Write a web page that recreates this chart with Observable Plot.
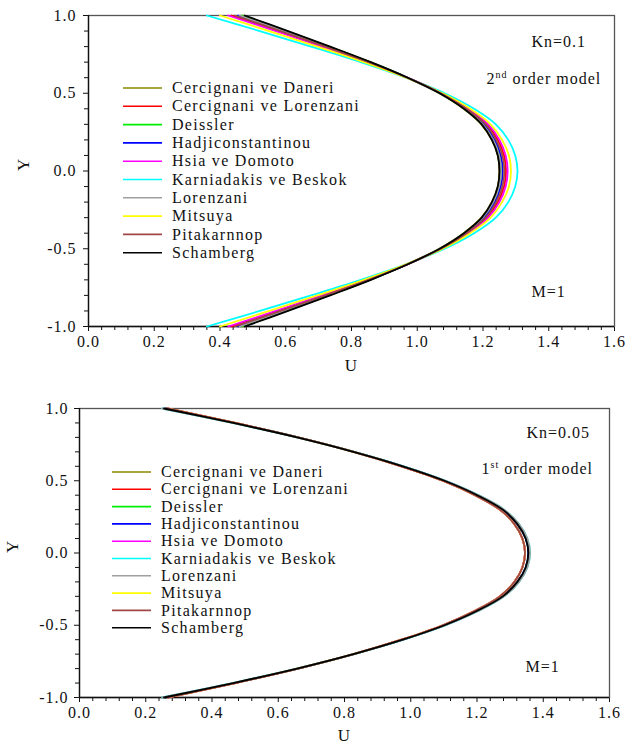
<!DOCTYPE html>
<html><head><meta charset="utf-8">
<script src="https://cdn.jsdelivr.net/npm/d3@7"></script>
<script src="https://cdn.jsdelivr.net/npm/@observablehq/plot@0.6"></script>
<style>
body{margin:0;background:#fff;}
#wrap{position:relative;width:642px;height:751px;overflow:hidden;}
#top{position:absolute;left:0;top:0;}
#bot{position:absolute;left:0;top:390px;}
</style></head><body><div id="wrap"><div id="top"></div><div id="bot"></div></div>
<script>
// ---- categories ----
const seriesNames = ["Cercignani ve Daneri","Cercignani ve Lorenzani","Deissler","Hadjiconstantinou","Hsia ve Domoto","Karniadakis ve Beskok","Lorenzani","Mitsuya","Pitakarnnop","Schamberg"];
const seriesColors = ["#8a8a00","#ff0000","#00ee00","#0000ff","#ff00ff","#00ffff","#a0a0a0","#ffff00","#a04848","#000000"];
const Yvals = [-1.0,-0.9,-0.8,-0.7,-0.6,-0.5,-0.4,-0.3,-0.2,-0.1,0.0,0.1,0.2,0.3,0.4,0.5,0.6,0.7,0.8,0.9,1.0];

// ---- tick values ----
const xMajorTicks = [0.0,0.2,0.4,0.6,0.8,1.0,1.2,1.4,1.6];
const xMinorTicks = [0.04,0.08,0.12,0.16,0.24,0.28,0.32,0.36,0.44,0.48,0.52,0.56,0.64,0.68,0.72,0.76,0.84,0.88,0.92,0.96,1.04,1.08,1.12,1.16,1.24,1.28,1.32,1.36,1.44,1.48,1.52,1.56];
const yMajorTicks = [-1.0,-0.5,0.0,0.5,1.0];
const yMinorTicks = [-0.9,-0.8,-0.7,-0.6,-0.4,-0.3,-0.2,-0.1,0.1,0.2,0.3,0.4,0.6,0.7,0.8,0.9];

// ---- top panel: Kn=0.1, 2nd order model (U at each Y) ----
const kn01_CercignaniDaneri   = [0.47,0.603,0.731,0.856,0.969,1.067,1.141,1.195,1.227,1.245,1.25,1.245,1.227,1.195,1.141,1.067,0.969,0.856,0.731,0.603,0.47];
const kn01_CercignaniLorenzani= [0.435,0.577,0.715,0.848,0.969,1.074,1.153,1.212,1.245,1.264,1.27,1.264,1.245,1.212,1.153,1.074,0.969,0.848,0.715,0.577,0.435];
const kn01_Deissler           = [0.465,0.599,0.73,0.856,0.971,1.069,1.144,1.20,1.231,1.249,1.255,1.249,1.231,1.20,1.144,1.069,0.971,0.856,0.73,0.599,0.465];
const kn01_Hadjiconstantinou  = [0.455,0.592,0.725,0.853,0.97,1.071,1.147,1.204,1.236,1.254,1.26,1.254,1.236,1.204,1.147,1.071,0.97,0.853,0.725,0.592,0.455];
const kn01_HsiaDomoto         = [0.425,0.57,0.71,0.846,0.969,1.075,1.156,1.216,1.25,1.269,1.275,1.269,1.25,1.216,1.156,1.075,0.969,0.846,0.71,0.57,0.425];
const kn01_KarniadakisBeskok  = [0.36,0.521,0.677,0.828,0.965,1.083,1.173,1.239,1.277,1.298,1.305,1.298,1.277,1.239,1.173,1.083,0.965,0.828,0.677,0.521,0.36];
const kn01_Lorenzani          = [0.46,0.595,0.726,0.854,0.969,1.068,1.144,1.199,1.231,1.249,1.255,1.249,1.231,1.199,1.144,1.068,0.969,0.854,0.726,0.595,0.46];
const kn01_Mitsuya            = [0.40,0.55,0.696,0.838,0.966,1.077,1.161,1.223,1.258,1.279,1.285,1.279,1.258,1.223,1.161,1.077,0.966,0.838,0.696,0.55,0.40];
const kn01_Pitakarnnop        = [0.445,0.584,0.72,0.851,0.97,1.072,1.15,1.208,1.24,1.259,1.265,1.259,1.24,1.208,1.15,1.072,0.97,0.851,0.72,0.584,0.445];
const kn01_Schamberg          = [0.475,0.607,0.735,0.859,0.971,1.068,1.142,1.196,1.227,1.245,1.25,1.245,1.227,1.196,1.142,1.068,0.971,0.859,0.735,0.607,0.475];

// ---- bottom panel: Kn=0.05, 1st order model ----
const kn005_CercignaniDaneri   = [0.265,0.47,0.659,0.827,0.972,1.097,1.194,1.269,1.313,1.337,1.345,1.337,1.313,1.269,1.194,1.097,0.972,0.827,0.659,0.47,0.265];
const kn005_CercignaniLorenzani= [0.265,0.47,0.659,0.827,0.972,1.097,1.194,1.269,1.313,1.337,1.345,1.337,1.313,1.269,1.194,1.097,0.972,0.827,0.659,0.47,0.265];
const kn005_Deissler           = [0.26,0.468,0.66,0.829,0.977,1.103,1.202,1.278,1.322,1.347,1.355,1.347,1.322,1.278,1.202,1.103,0.977,0.829,0.66,0.468,0.26];
const kn005_Hadjiconstantinou  = [0.26,0.468,0.66,0.829,0.977,1.103,1.202,1.278,1.322,1.347,1.355,1.347,1.322,1.278,1.202,1.103,0.977,0.829,0.66,0.468,0.26];
const kn005_HsiaDomoto         = [0.265,0.47,0.659,0.827,0.972,1.097,1.194,1.269,1.313,1.337,1.345,1.337,1.313,1.269,1.194,1.097,0.972,0.827,0.659,0.47,0.265];
const kn005_KarniadakisBeskok  = [0.25,0.461,0.655,0.827,0.977,1.105,1.205,1.282,1.327,1.352,1.36,1.352,1.327,1.282,1.205,1.105,0.977,0.827,0.655,0.461,0.25];
const kn005_Lorenzani          = [0.25,0.461,0.655,0.827,0.977,1.105,1.205,1.282,1.327,1.352,1.36,1.352,1.327,1.282,1.205,1.105,0.977,0.827,0.655,0.461,0.25];
const kn005_Mitsuya            = [0.265,0.47,0.659,0.827,0.972,1.097,1.194,1.269,1.313,1.337,1.345,1.337,1.313,1.269,1.194,1.097,0.972,0.827,0.659,0.47,0.265];
const kn005_Pitakarnnop        = [0.265,0.47,0.659,0.827,0.972,1.097,1.194,1.269,1.313,1.337,1.345,1.337,1.313,1.269,1.194,1.097,0.972,0.827,0.659,0.47,0.265];
const kn005_Schamberg          = [0.255,0.464,0.657,0.827,0.976,1.102,1.201,1.278,1.322,1.347,1.355,1.347,1.322,1.278,1.201,1.102,0.976,0.827,0.657,0.464,0.255];

const topSeries = [kn01_CercignaniDaneri,kn01_CercignaniLorenzani,kn01_Deissler,kn01_Hadjiconstantinou,kn01_HsiaDomoto,kn01_KarniadakisBeskok,kn01_Lorenzani,kn01_Mitsuya,kn01_Pitakarnnop,kn01_Schamberg];
const botSeries = [kn005_CercignaniDaneri,kn005_CercignaniLorenzani,kn005_Deissler,kn005_Hadjiconstantinou,kn005_HsiaDomoto,kn005_KarniadakisBeskok,kn005_Lorenzani,kn005_Mitsuya,kn005_Pitakarnnop,kn005_Schamberg];

const topNotes = ["Kn=0.1", "2^nd^ order model", "M=1"];
const botNotes = ["Kn=0.05", "1^st^ order model", "M=1"];

const FONT = "'Liberation Serif','Times New Roman',serif";
const fmt = d => (Math.abs(d) < 1e-9 ? 0 : d).toFixed(1);

function rowsOf(list) {
  const rows = [];
  list.forEach((vals, i) => vals.forEach((u, j) => rows.push({series: seriesNames[i], U: u, Y: Yvals[j]})));
  return rows;
}

function panel(el, list, notes, L) {
  const svg = Plot.plot({
    width: 642, height: L.height,
    marginTop: L.mt, marginBottom: L.mb, marginLeft: L.ml, marginRight: L.mr,
    style: {fontFamily: FONT, fontSize: "16px", letterSpacing: "1px", color: "#111", background: "white", overflow: "visible"},
    x: {domain: [0, 1.6], label: null},
    y: {domain: [-1, 1], label: null},
    color: {domain: seriesNames, range: seriesColors},
    marks: [
      Plot.axisX({ticks: xMinorTicks, tickSize: 4, tickFormat: () => "", label: null, stroke: "#111"}),
      Plot.axisX({ticks: xMajorTicks, tickSize: 5, tickPadding: 4, tickFormat: fmt, label: null, stroke: "#111"}),
      Plot.axisY({ticks: yMinorTicks, tickSize: 4, tickFormat: () => "", label: null, stroke: "#111"}),
      Plot.axisY({ticks: yMajorTicks, tickSize: 5, tickPadding: L.typ, tickFormat: fmt, label: null, stroke: "#111"}),
      Plot.frame({stroke: "#555", strokeWidth: 1.3}),
      Plot.ruleX([0], {stroke: "#111", strokeWidth: 1.3}),
      Plot.ruleY([-1], {stroke: "#111", strokeWidth: 1.3}),
      Plot.line(rowsOf(list), {x: "U", y: "Y", z: "series", stroke: "series", strokeWidth: 1.8, curve: "catmull-rom"}),
      Plot.text(["U"], {frameAnchor: "bottom", dy: L.udy, fontSize: 17}),
      Plot.text(["Y"], {frameAnchor: "left", dx: L.ydx, rotate: -90, fontSize: 17}),
      Plot.text([notes[0]], {frameAnchor: "top-left", textAnchor: "start", dx: L.n1[0], dy: L.n1[1]}),
      Plot.text([notes[1]], {frameAnchor: "top-left", textAnchor: "start", dx: L.n2[0], dy: L.n2[1]}),
      Plot.text([notes[2]], {frameAnchor: "top-left", textAnchor: "start", dx: L.n3[0], dy: L.n3[1]})
    ]
  });
  // superscripts
  d3.select(svg).selectAll("text").each(function() {
    const t = this.textContent;
    if (t.includes("^")) {
      const parts = t.split("^");
      const sel = d3.select(this);
      sel.text(null);
      sel.append("tspan").text(parts[0]);
      sel.append("tspan").attr("font-size", "10px").attr("dy", "-6").text(parts[1]);
      sel.append("tspan").attr("dy", "6").text(parts[2]);
    }
  });
  // legend
  const g = d3.select(svg).append("g").attr("font-family", FONT).attr("font-size", 16)
    .attr("letter-spacing", "1.3px").attr("text-anchor", "start");
  seriesNames.forEach((name, i) => {
    const y = L.lg.y0 + i * L.lg.dy;
    g.append("line").attr("x1", L.lg.x1).attr("x2", L.lg.x2).attr("y1", y).attr("y2", y)
      .attr("stroke", seriesColors[i]).attr("stroke-width", 1.6);
    g.append("text").attr("x", L.lg.tx).attr("y", y).attr("dy", "0.32em").attr("fill", "#111")
      .attr("text-anchor", "start").text(name);
  });
  el.appendChild(svg);
}

panel(document.getElementById("top"), topSeries, topNotes, {
  height: 385, mt: 15, mb: 59, ml: 88, mr: 28, typ: 7,
  udy: 44, ydx: -65,
  n1: [443, 20], n2: [398, 57], n3: [443, 270],
  lg: {x1: 123, x2: 162, tx: 172, y0: 88, dy: 18.3}
});
panel(document.getElementById("bot"), botSeries, botNotes, {
  height: 361, mt: 18, mb: 54, ml: 79, mr: 33, typ: 6,
  udy: 43, ydx: -67,
  n1: [447, 18], n2: [402, 54], n3: [446, 252],
  lg: {x1: 112, x2: 151, tx: 161, y0: 82, dy: 17.3}
});
</script></body></html>
